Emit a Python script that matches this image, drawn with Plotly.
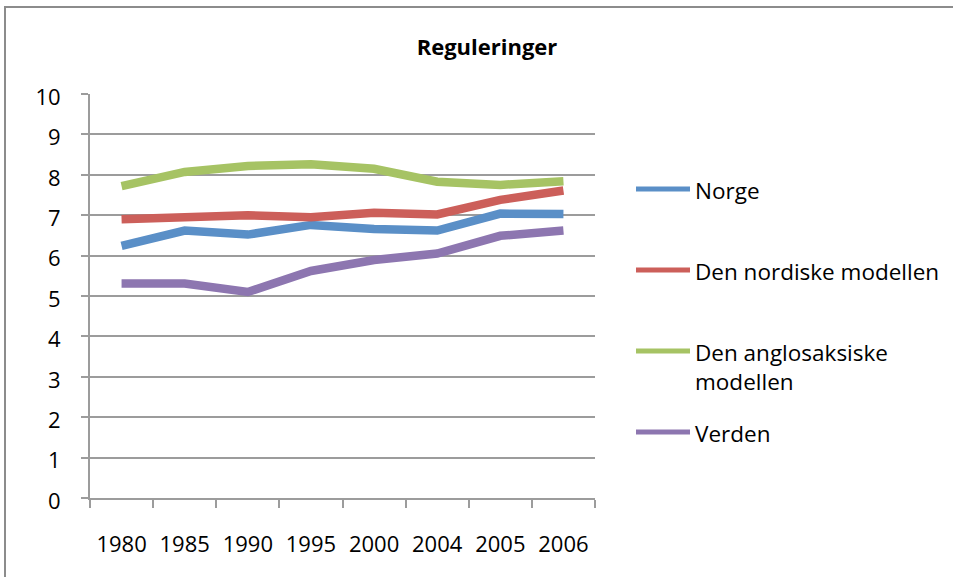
import plotly.graph_objects as go

# ---- data ----
years = ["1980", "1985", "1990", "1995", "2000", "2004", "2005", "2006"]
norge = [6.24, 6.62, 6.52, 6.76, 6.66, 6.62, 7.04, 7.03]
nordiske = [6.90, 6.96, 7.00, 6.95, 7.06, 7.02, 7.38, 7.61]
anglo = [7.72, 8.07, 8.22, 8.26, 8.15, 7.83, 7.75, 7.84]
verden = [5.31, 5.31, 5.10, 5.62, 5.89, 6.05, 6.49, 6.62]

series_names = ["Norge", "Den nordiske modellen", "Den anglosaksiske<br>modellen", "Verden"]
series_values = [norge, nordiske, anglo, verden]
colors = ["#5A8FC7", "#CC5F5A", "#A6C364", "#8D76B0"]
title_text = "Reguleringer"

# ---- layout geometry (pixels) ----
W_FIG, H_FIG = 953, 577
L, R, T, B = 90, 595, 94, 498
PW, PH = R - L, B - T
FONT = "Open Sans, Lato, sans-serif"
GRID = "#9C9C9C"


def px_x(p):
    return (p - L) / PW


def px_y(p):
    return (B - p) / PH


fig = go.Figure()
for name, vals, col in zip(series_names, series_values, colors):
    fig.add_trace(go.Scatter(
        x=years, y=vals, mode="lines", name=name.replace("<br>", " "),
        line=dict(color=col, width=8.5), showlegend=False,
        hoverinfo="x+y+name",
    ))

# manual legend (swatch + label), laid out like the original
legend_rows = [189, 270, 351, 432]
shapes = []
annotations = []
for name, col, yc in zip(series_names, colors, legend_rows):
    shapes.append(dict(type="line", xref="paper", yref="paper",
                       x0=px_x(636), x1=px_x(690), y0=px_y(yc), y1=px_y(yc),
                       line=dict(color=col, width=5)))
    annotations.append(dict(
        xref="paper", yref="paper", x=px_x(693), y=px_y(yc - 16),
        xanchor="left", yanchor="top", text=name, showarrow=False, align="left",
        font=dict(family=FONT, size=22.5, color="#000000"),
    ))

# outer chart border
shapes.append(dict(type="rect", xref="paper", yref="paper",
                   x0=px_x(5), x1=px_x(965), y0=px_y(590), y1=px_y(7),
                   line=dict(color="#8C8C8C", width=2), fillcolor="rgba(0,0,0,0)",
                   layer="below"))

fig.update_layout(
    width=W_FIG, height=H_FIG,
    margin=dict(l=L, r=W_FIG - R, t=T, b=H_FIG - B, pad=0),
    paper_bgcolor="white", plot_bgcolor="white",
    showlegend=False,
    title=dict(text="<b>" + title_text + "</b>", xref="container", yref="container",
               x=487 / W_FIG, y=1 - 47 / H_FIG, xanchor="center", yanchor="middle",
               font=dict(family=FONT, size=22, color="#000000")),
    font=dict(family=FONT, size=22, color="#000000"),
    shapes=shapes, annotations=annotations,
)

fig.update_xaxes(
    type="category", range=[-0.5, len(years) - 0.5], tickson="boundaries",
    showgrid=False, showline=True, linecolor=GRID, linewidth=2,
    ticks="outside", ticklen=8, tickwidth=2, tickcolor=GRID,
    ticklabelstandoff=26, tickfont=dict(family=FONT, size=22, color="#000000"),
    fixedrange=True,
)
fig.update_yaxes(
    range=[0, 10], dtick=1, tick0=0,
    showgrid=True, gridcolor=GRID, gridwidth=2, zeroline=False,
    showline=True, linecolor=GRID, linewidth=2,
    ticks="outside", ticklen=7, tickwidth=2, tickcolor=GRID,
    ticklabelstandoff=16, ticklabelshift=3,
    tickfont=dict(family=FONT, size=22, color="#000000"),
    fixedrange=True,
)

fig.write_html("out.html", config={"displayModeBar": False},
               post_script="document.body.style.margin='0';")
